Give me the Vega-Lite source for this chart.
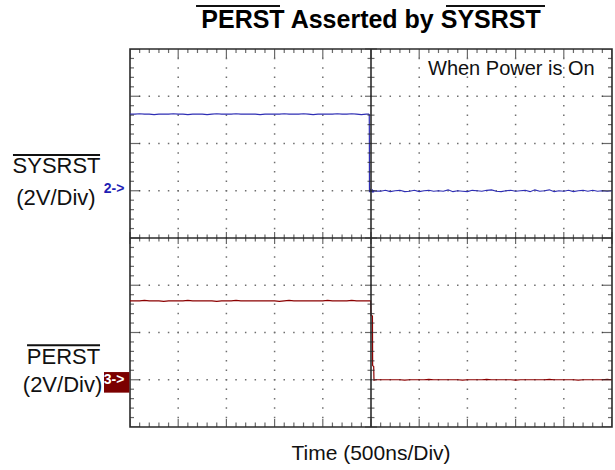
{
  "$schema": "https://vega.github.io/schema/vega-lite/v6.json",
  "width": 482,
  "height": 378,
  "autosize": "none",
  "padding": {"left": 130, "top": 49, "right": 3, "bottom": 43},
  "background": "white",
  "config": {"view": {"stroke": "#2b2b2b", "strokeWidth": 1.6}, "font": "Liberation Sans"},
  "resolve": {"scale": {"size": "independent"}},
  "datasets": {
    "sig": [
      {"t":-2500,"sys":6.62,"per":2.67},{"t":-2450,"sys":6.62,"per":2.67},{"t":-2400,"sys":6.63,"per":2.67},{"t":-2350,"sys":6.62,"per":2.68},
      {"t":-2300,"sys":6.62,"per":2.67},{"t":-2250,"sys":6.61,"per":2.67},{"t":-2200,"sys":6.62,"per":2.67},{"t":-2150,"sys":6.62,"per":2.66},
      {"t":-2100,"sys":6.62,"per":2.67},{"t":-2050,"sys":6.63,"per":2.67},{"t":-2000,"sys":6.62,"per":2.67},{"t":-1950,"sys":6.62,"per":2.67},
      {"t":-1900,"sys":6.61,"per":2.68},{"t":-1850,"sys":6.62,"per":2.67},{"t":-1800,"sys":6.62,"per":2.67},{"t":-1750,"sys":6.62,"per":2.67},
      {"t":-1700,"sys":6.61,"per":2.67},{"t":-1650,"sys":6.62,"per":2.67},{"t":-1600,"sys":6.63,"per":2.66},{"t":-1550,"sys":6.62,"per":2.67},
      {"t":-1500,"sys":6.62,"per":2.67},{"t":-1450,"sys":6.62,"per":2.67},{"t":-1400,"sys":6.63,"per":2.68},{"t":-1350,"sys":6.62,"per":2.67},
      {"t":-1300,"sys":6.62,"per":2.67},{"t":-1250,"sys":6.62,"per":2.67},{"t":-1200,"sys":6.62,"per":2.67},{"t":-1150,"sys":6.61,"per":2.67},
      {"t":-1100,"sys":6.62,"per":2.67},{"t":-1050,"sys":6.62,"per":2.67},{"t":-1000,"sys":6.62,"per":2.67},{"t":-950,"sys":6.62,"per":2.66},
      {"t":-900,"sys":6.63,"per":2.67},{"t":-850,"sys":6.62,"per":2.68},{"t":-800,"sys":6.62,"per":2.67},{"t":-750,"sys":6.62,"per":2.67},
      {"t":-700,"sys":6.63,"per":2.67},{"t":-650,"sys":6.62,"per":2.67},{"t":-600,"sys":6.61,"per":2.67},{"t":-550,"sys":6.62,"per":2.67},
      {"t":-500,"sys":6.62,"per":2.67},{"t":-450,"sys":6.62,"per":2.68},{"t":-400,"sys":6.62,"per":2.67},{"t":-350,"sys":6.63,"per":2.67},
      {"t":-300,"sys":6.62,"per":2.67},{"t":-250,"sys":6.62,"per":2.67},{"t":-200,"sys":6.63,"per":2.68},{"t":-150,"sys":6.62,"per":2.67},
      {"t":-100,"sys":6.61,"per":2.67},{"t":-50,"sys":6.62,"per":2.67},
      {"t":-25,"sys":6.62,"per":2.67},{"t":-18,"sys":6.61,"per":2.67},{"t":-17,"sys":6.12,"per":2.67},{"t":-16,"sys":4.97,"per":2.67},
      {"t":-10,"sys":5.02,"per":2.67},{"t":-3,"sys":4.97,"per":2.67},{"t":0,"sys":5.01,"per":2.36},{"t":15,"sys":4.98,"per":2.35},
      {"t":17,"sys":5.01,"per":1.30},{"t":28,"sys":4.98,"per":1.28},{"t":31,"sys":5.00,"per":0.99},{"t":50,"sys":4.99,"per":1.00},
      {"t":100,"sys":4.99,"per":1.00},{"t":150,"sys":5.01,"per":1.00},{"t":200,"sys":4.98,"per":1.00},{"t":250,"sys":5.00,"per":1.00},
      {"t":300,"sys":5.01,"per":1.00},{"t":350,"sys":4.98,"per":0.99},{"t":400,"sys":4.99,"per":1.00},{"t":450,"sys":5.01,"per":1.00},
      {"t":500,"sys":4.98,"per":1.00},{"t":550,"sys":5.00,"per":1.00},{"t":600,"sys":5.01,"per":1.01},{"t":650,"sys":4.99,"per":1.00},
      {"t":700,"sys":5.00,"per":1.00},{"t":750,"sys":4.99,"per":1.00},{"t":800,"sys":5.02,"per":1.00},{"t":850,"sys":4.98,"per":1.00},
      {"t":900,"sys":5.00,"per":1.00},{"t":950,"sys":4.99,"per":0.99},{"t":1000,"sys":4.98,"per":1.00},{"t":1050,"sys":5.01,"per":1.00},
      {"t":1100,"sys":5.00,"per":1.00},{"t":1150,"sys":4.99,"per":1.00},{"t":1200,"sys":5.01,"per":1.01},{"t":1250,"sys":5.02,"per":1.00},
      {"t":1300,"sys":4.99,"per":1.00},{"t":1350,"sys":4.98,"per":1.00},{"t":1400,"sys":5.00,"per":1.00},{"t":1450,"sys":5.01,"per":1.00},
      {"t":1500,"sys":4.99,"per":0.99},{"t":1550,"sys":5.00,"per":1.00},{"t":1600,"sys":5.01,"per":1.00},{"t":1650,"sys":4.98,"per":1.00},
      {"t":1700,"sys":5.02,"per":1.00},{"t":1750,"sys":4.99,"per":1.00},{"t":1800,"sys":5.00,"per":1.00},{"t":1850,"sys":5.02,"per":1.01},
      {"t":1900,"sys":4.98,"per":1.00},{"t":1950,"sys":5.00,"per":1.00},{"t":2000,"sys":4.99,"per":1.00},{"t":2050,"sys":5.01,"per":1.00},
      {"t":2100,"sys":4.98,"per":1.00},{"t":2150,"sys":5.00,"per":0.99},{"t":2200,"sys":5.01,"per":1.00},{"t":2250,"sys":4.99,"per":1.00},
      {"t":2300,"sys":5.01,"per":1.00},{"t":2350,"sys":4.99,"per":1.00},{"t":2400,"sys":5.00,"per":1.00},{"t":2450,"sys":4.99,"per":1.01},
      {"t":2500,"sys":5.00,"per":1.00}
    ],
    "gx": [{"t":-2000},{"t":-1500},{"t":-1000},{"t":-500},{"t":500},{"t":1000},{"t":1500},{"t":2000}],
    "gy": [{"d":1},{"d":2},{"d":3},{"d":5},{"d":6},{"d":7}],
    "xt": [
      {"t":-2500,"k":"major"},{"t":-2400,"k":"minor"},{"t":-2300,"k":"minor"},{"t":-2200,"k":"minor"},{"t":-2100,"k":"minor"},
      {"t":-2000,"k":"major"},{"t":-1900,"k":"minor"},{"t":-1800,"k":"minor"},{"t":-1700,"k":"minor"},{"t":-1600,"k":"minor"},
      {"t":-1500,"k":"major"},{"t":-1400,"k":"minor"},{"t":-1300,"k":"minor"},{"t":-1200,"k":"minor"},{"t":-1100,"k":"minor"},
      {"t":-1000,"k":"major"},{"t":-900,"k":"minor"},{"t":-800,"k":"minor"},{"t":-700,"k":"minor"},{"t":-600,"k":"minor"},
      {"t":-500,"k":"major"},{"t":-400,"k":"minor"},{"t":-300,"k":"minor"},{"t":-200,"k":"minor"},{"t":-100,"k":"minor"},
      {"t":0,"k":"major"},{"t":100,"k":"minor"},{"t":200,"k":"minor"},{"t":300,"k":"minor"},{"t":400,"k":"minor"},
      {"t":500,"k":"major"},{"t":600,"k":"minor"},{"t":700,"k":"minor"},{"t":800,"k":"minor"},{"t":900,"k":"minor"},
      {"t":1000,"k":"major"},{"t":1100,"k":"minor"},{"t":1200,"k":"minor"},{"t":1300,"k":"minor"},{"t":1400,"k":"minor"},
      {"t":1500,"k":"major"},{"t":1600,"k":"minor"},{"t":1700,"k":"minor"},{"t":1800,"k":"minor"},{"t":1900,"k":"minor"},
      {"t":2000,"k":"major"},{"t":2100,"k":"minor"},{"t":2200,"k":"minor"},{"t":2300,"k":"minor"},{"t":2400,"k":"minor"},
      {"t":2500,"k":"major"}
    ],
    "yt": [
      {"d":0,"k":"major"},{"d":0.2,"k":"minor"},{"d":0.4,"k":"minor"},{"d":0.6,"k":"minor"},{"d":0.8,"k":"minor"},
      {"d":1,"k":"major"},{"d":1.2,"k":"minor"},{"d":1.4,"k":"minor"},{"d":1.6,"k":"minor"},{"d":1.8,"k":"minor"},
      {"d":2,"k":"major"},{"d":2.2,"k":"minor"},{"d":2.4,"k":"minor"},{"d":2.6,"k":"minor"},{"d":2.8,"k":"minor"},
      {"d":3,"k":"major"},{"d":3.2,"k":"minor"},{"d":3.4,"k":"minor"},{"d":3.6,"k":"minor"},{"d":3.8,"k":"minor"},
      {"d":4,"k":"major"},{"d":4.2,"k":"minor"},{"d":4.4,"k":"minor"},{"d":4.6,"k":"minor"},{"d":4.8,"k":"minor"},
      {"d":5,"k":"major"},{"d":5.2,"k":"minor"},{"d":5.4,"k":"minor"},{"d":5.6,"k":"minor"},{"d":5.8,"k":"minor"},
      {"d":6,"k":"major"},{"d":6.2,"k":"minor"},{"d":6.4,"k":"minor"},{"d":6.6,"k":"minor"},{"d":6.8,"k":"minor"},
      {"d":7,"k":"major"},{"d":7.2,"k":"minor"},{"d":7.4,"k":"minor"},{"d":7.6,"k":"minor"},{"d":7.8,"k":"minor"},
      {"d":8,"k":"major"}
    ]
  },
  "layer": [
    {
      "data": {"name": "gx"},
      "mark": {"type": "rule", "color": "#6e6e6e", "strokeWidth": 1.5, "strokeDash": [1.5, 7.95], "strokeDashOffset": 0.75},
      "encoding": {
        "x": {"field": "t", "type": "quantitative", "scale": {"domain": [-2500, 2500], "nice": false, "zero": false}, "axis": null}
      }
    },
    {
      "data": {"name": "gy"},
      "mark": {"type": "rule", "color": "#6e6e6e", "strokeWidth": 1.5, "strokeDash": [1.5, 8.14], "strokeDashOffset": 0.75},
      "encoding": {
        "y": {"field": "d", "type": "quantitative", "scale": {"domain": [0, 8], "nice": false, "zero": false}, "axis": null}
      }
    },
    {
      "data": {"name": "sig"},
      "mark": {"type": "line", "color": "#2e2eb4", "strokeWidth": 1.2},
      "encoding": {
        "x": {"field": "t", "type": "quantitative", "axis": null},
        "y": {"field": "sys", "type": "quantitative", "axis": null}
      }
    },
    {
      "data": {"name": "sig"},
      "mark": {"type": "line", "color": "#8b0000", "strokeWidth": 1.2},
      "encoding": {
        "x": {"field": "t", "type": "quantitative", "axis": null},
        "y": {"field": "per", "type": "quantitative", "axis": null}
      }
    },
    {
      "data": {"values": [{}]},
      "mark": {"type": "rule", "color": "#2b2b2b", "strokeWidth": 1.6},
      "encoding": {"x": {"datum": 0, "axis": null}}
    },
    {
      "data": {"values": [{}]},
      "mark": {"type": "rule", "color": "#2b2b2b", "strokeWidth": 1.6},
      "encoding": {"y": {"datum": 4, "axis": null}}
    },
    {
      "data": {"name": "xt"},
      "mark": {"type": "tick", "orient": "vertical", "color": "#2b2b2b", "thickness": 1.2, "clip": true},
      "encoding": {
        "x": {"field": "t", "type": "quantitative", "axis": null},
        "y": {"datum": 8, "axis": null},
        "size": {"field": "k", "type": "nominal", "scale": {"domain": ["minor", "major"], "range": [8, 18]}, "legend": null}
      }
    },
    {
      "data": {"name": "xt"},
      "mark": {"type": "tick", "orient": "vertical", "color": "#2b2b2b", "thickness": 1.2, "clip": true},
      "encoding": {
        "x": {"field": "t", "type": "quantitative", "axis": null},
        "y": {"datum": 0, "axis": null},
        "size": {"field": "k", "type": "nominal", "scale": {"domain": ["minor", "major"], "range": [9, 16]}, "legend": null}
      }
    },
    {
      "data": {"name": "xt"},
      "mark": {"type": "tick", "orient": "vertical", "color": "#2b2b2b", "thickness": 1.2},
      "encoding": {
        "x": {"field": "t", "type": "quantitative", "axis": null},
        "y": {"datum": 4, "axis": null},
        "size": {"field": "k", "type": "nominal", "scale": {"domain": ["minor", "major"], "range": [7, 12]}, "legend": null}
      }
    },
    {
      "data": {"name": "yt"},
      "mark": {"type": "tick", "orient": "horizontal", "color": "#2b2b2b", "thickness": 1.2, "clip": true},
      "encoding": {
        "y": {"field": "d", "type": "quantitative", "axis": null},
        "x": {"datum": -2500, "axis": null},
        "size": {"field": "k", "type": "nominal", "scale": {"domain": ["minor", "major"], "range": [8, 20]}, "legend": null}
      }
    },
    {
      "data": {"name": "yt"},
      "mark": {"type": "tick", "orient": "horizontal", "color": "#2b2b2b", "thickness": 1.2, "clip": true},
      "encoding": {
        "y": {"field": "d", "type": "quantitative", "axis": null},
        "x": {"datum": 2500, "axis": null},
        "size": {"field": "k", "type": "nominal", "scale": {"domain": ["minor", "major"], "range": [8, 20]}, "legend": null}
      }
    },
    {
      "data": {"name": "yt"},
      "mark": {"type": "tick", "orient": "horizontal", "color": "#2b2b2b", "thickness": 1.2},
      "encoding": {
        "y": {"field": "d", "type": "quantitative", "axis": null},
        "x": {"datum": 0, "axis": null},
        "size": {"field": "k", "type": "nominal", "scale": {"domain": ["minor", "major"], "range": [7, 12]}, "legend": null}
      }
    },
    {
      "data": {"values": [{"label": "PERST Asserted by SYSRST"}]},
      "mark": {"type": "text", "fontSize": 25, "fontWeight": "bold", "color": "#000", "align": "center", "baseline": "alphabetic"},
      "encoding": {"x": {"datum": 0, "axis": null}, "y": {"datum": 8.445, "axis": null}, "text": {"field": "label"}}
    },
    {
      "data": {"values": [{"label": "When Power is On"}]},
      "mark": {"type": "text", "fontSize": 20, "color": "#111", "align": "center", "baseline": "alphabetic"},
      "encoding": {"x": {"datum": 1456, "axis": null}, "y": {"datum": 7.45, "axis": null}, "text": {"field": "label"}}
    },
    {
      "data": {"values": [{"label": "Time  (500ns/Div)"}]},
      "mark": {"type": "text", "fontSize": 21, "color": "#111", "align": "center", "baseline": "alphabetic"},
      "encoding": {"x": {"datum": 0, "axis": null}, "y": {"datum": -0.7, "axis": null}, "text": {"field": "label"}}
    },
    {
      "data": {"values": [{"label": "SYSRST"}]},
      "mark": {"type": "text", "fontSize": 22, "color": "#111", "align": "center", "baseline": "alphabetic"},
      "encoding": {"x": {"datum": -3262, "axis": null}, "y": {"datum": 5.366, "axis": null}, "text": {"field": "label"}}
    },
    {
      "data": {"values": [{"label": "(2V/Div)"}]},
      "mark": {"type": "text", "fontSize": 22, "color": "#111", "align": "center", "baseline": "alphabetic"},
      "encoding": {"x": {"datum": -3268, "axis": null}, "y": {"datum": 4.695, "axis": null}, "text": {"field": "label"}}
    },
    {
      "data": {"values": [{"label": "PERST"}]},
      "mark": {"type": "text", "fontSize": 22, "color": "#111", "align": "center", "baseline": "alphabetic"},
      "encoding": {"x": {"datum": -3190, "axis": null}, "y": {"datum": 1.341, "axis": null}, "text": {"field": "label"}}
    },
    {
      "data": {"values": [{"label": "(2V/Div)"}]},
      "mark": {"type": "text", "fontSize": 22, "color": "#111", "align": "center", "baseline": "alphabetic"},
      "encoding": {"x": {"datum": -3200, "axis": null}, "y": {"datum": 0.739, "axis": null}, "text": {"field": "label"}}
    },
    {
      "data": {"values": [{}]},
      "mark": {"type": "rule", "color": "#111", "strokeWidth": 2},
      "encoding": {"x": {"datum": -3714, "axis": null}, "x2": {"datum": -2811}, "y": {"datum": 5.754, "axis": null}}
    },
    {
      "data": {"values": [{}]},
      "mark": {"type": "rule", "color": "#111", "strokeWidth": 2},
      "encoding": {"x": {"datum": -3568, "axis": null}, "x2": {"datum": -2811}, "y": {"datum": 1.729, "axis": null}}
    },
    {
      "data": {"values": [{}]},
      "mark": {"type": "rule", "color": "#111", "strokeWidth": 2},
      "encoding": {"x": {"datum": -1815, "axis": null}, "x2": {"datum": -944}, "y": {"datum": 8.912, "axis": null}}
    },
    {
      "data": {"values": [{}]},
      "mark": {"type": "rule", "color": "#111", "strokeWidth": 2},
      "encoding": {"x": {"datum": 778, "axis": null}, "x2": {"datum": 1805}, "y": {"datum": 8.912, "axis": null}}
    },
    {
      "data": {"values": [{"label": "2->"}]},
      "mark": {"type": "text", "fontSize": 14, "fontWeight": "bold", "color": "#1f1fb4", "align": "center", "baseline": "middle"},
      "encoding": {"x": {"datum": -2666, "axis": null}, "y": {"datum": 5.03, "axis": null}, "text": {"field": "label"}}
    },
    {
      "data": {"values": [{}]},
      "mark": {"type": "rect", "color": "#7b0000"},
      "encoding": {"x": {"datum": -2770, "axis": null}, "x2": {"datum": -2507}, "y": {"datum": 1.163, "axis": null}, "y2": {"datum": 0.727}}
    },
    {
      "data": {"values": [{"label": "3->"}]},
      "mark": {"type": "text", "fontSize": 14, "fontWeight": "bold", "color": "#ffffff", "align": "center", "baseline": "middle"},
      "encoding": {"x": {"datum": -2666, "axis": null}, "y": {"datum": 1.0, "axis": null}, "text": {"field": "label"}}
    }
  ]
}
